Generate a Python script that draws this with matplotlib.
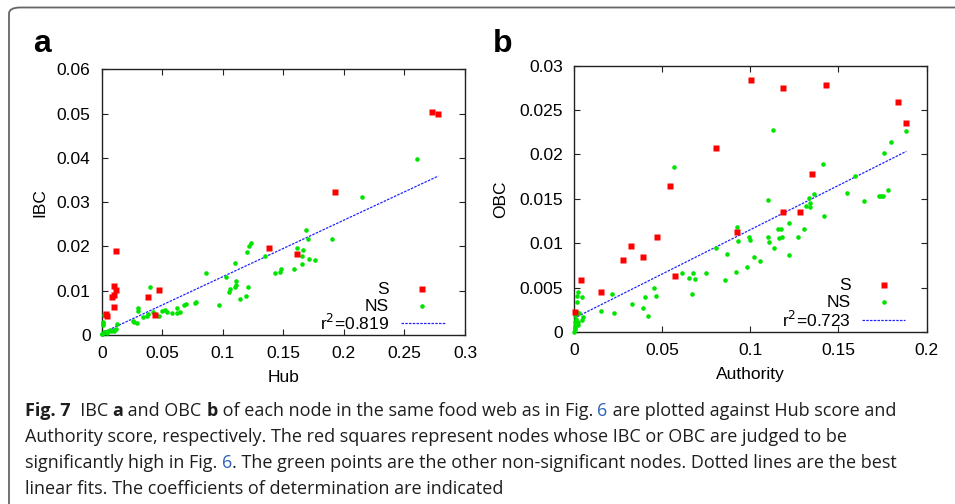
import numpy as np
import matplotlib
matplotlib.use("Agg")
import matplotlib.pyplot as plt
from matplotlib.patches import FancyBboxPatch

# panel a: IBC vs Hub
a_sig_x = [0.273, 0.278, 0.193, 0.138, 0.161, 0.012, 0.0102, 0.0118, 0.0085, 0.0103,
           0.0102, 0.0038, 0.004, 0.0385, 0.0469, 0.044]
a_sig_y = [0.0503, 0.0500, 0.0322, 0.0196, 0.0184, 0.0189, 0.0111, 0.0102, 0.0086, 0.0090,
           0.0063, 0.0048, 0.0044, 0.0086, 0.0101, 0.0046]
a_ns_x = [0.260, 0.215, 0.169, 0.170, 0.190, 0.161, 0.166, 0.165, 0.171, 0.176,
          0.165, 0.159, 0.148, 0.147, 0.143, 0.135, 0.123, 0.122, 0.120, 0.110,
          0.103, 0.111, 0.111, 0.110, 0.106, 0.105, 0.121, 0.119, 0.114, 0.097,
          0.086, 0.078, 0.077, 0.070, 0.068, 0.065, 0.062, 0.062, 0.058, 0.054,
          0.052, 0.050, 0.047, 0.044, 0.042, 0.040, 0.038, 0.037, 0.034, 0.030,
          0.030, 0.029, 0.027, 0.026, 0.013, 0.012, 0.010, 0.007, 0.005, 0.003,
          0.002, 0.0003, 0.0, 0.002, 0.001, 0.001, 0.001, 0.008, 0.004, 0.0105]
a_ns_y = [0.0398, 0.0312, 0.0237, 0.0217, 0.0217, 0.0197, 0.0193, 0.0178, 0.0172, 0.0169,
          0.0160, 0.0148, 0.0150, 0.0142, 0.0139, 0.0178, 0.0207, 0.0202, 0.0188, 0.0163,
          0.0132, 0.0121, 0.0112, 0.0108, 0.0105, 0.0096, 0.0109, 0.0089, 0.0082, 0.0067,
          0.0141, 0.0074, 0.0072, 0.0071, 0.0067, 0.0053, 0.0060, 0.0049, 0.0049, 0.0053,
          0.0056, 0.0054, 0.0043, 0.0048, 0.0053, 0.0109, 0.0048, 0.0044, 0.0040, 0.0060,
          0.0055, 0.0027, 0.0029, 0.0032, 0.0025, 0.0014, 0.0012, 0.0011, 0.0009, 0.0007,
          0.0006, 0.0002, 0.0003, 0.0046, 0.0026, 0.0030, 0.0022, 0.0010, 0.0005, 0.0008]
a_fit = (0.0004, 0.1277)  # intercept, slope
a_r2 = "0.819"

# panel b: OBC vs Authority
b_sig_x = [0.1006, 0.1187, 0.1431, 0.184, 0.1885, 0.0807, 0.0546, 0.1352, 0.1187, 0.1284,
           0.0926, 0.0473, 0.0325, 0.0393, 0.0280, 0.0575, 0.0041, 0.0155, 0.0006]
b_sig_y = [0.0284, 0.0275, 0.0278, 0.0259, 0.0235, 0.0207, 0.0165, 0.0178, 0.0135, 0.0135,
           0.0113, 0.0107, 0.0097, 0.0085, 0.0081, 0.0063, 0.0059, 0.0045, 0.0023]
b_ns_x = [0.1885, 0.1796, 0.1758, 0.1127, 0.0565, 0.1412, 0.1594, 0.1551, 0.1647, 0.1782,
          0.1754, 0.1732, 0.1740, 0.1363, 0.1335, 0.1338, 0.1338, 0.1318, 0.1099, 0.1418,
          0.1220, 0.1303, 0.1159, 0.1176, 0.1165, 0.1178, 0.1270, 0.1099, 0.1104, 0.1136,
          0.1220, 0.0926, 0.0930, 0.0993, 0.0996, 0.1023, 0.1057, 0.0980, 0.0919, 0.0870,
          0.0807, 0.0858, 0.0750, 0.0677, 0.0684, 0.0652, 0.0612, 0.0669, 0.0454, 0.0463,
          0.0403, 0.0393, 0.0420, 0.0331, 0.0213, 0.0225, 0.0151, 0.0045, 0.0023, 0.0019,
          0.0017, 0.0024, 0.0030, 0.0049, 0.0047, 0.0008, 0.0010, 0.0005, 0.0024, 0.0024,
          0.0008, 0.0005, 0.0, 0.0004]
b_ns_y = [0.0226, 0.0214, 0.0202, 0.0228, 0.0186, 0.0189, 0.0176, 0.0157, 0.0148, 0.0160,
          0.0153, 0.0153, 0.0153, 0.0156, 0.0151, 0.0145, 0.0141, 0.0142, 0.0149, 0.0131,
          0.0123, 0.0116, 0.0116, 0.0116, 0.0106, 0.0107, 0.0107, 0.0107, 0.0101, 0.0095,
          0.0087, 0.0118, 0.0103, 0.0107, 0.0104, 0.0085, 0.0080, 0.0073, 0.0068, 0.0088,
          0.0095, 0.0058, 0.0066, 0.0067, 0.0060, 0.0061, 0.0066, 0.0043, 0.0050, 0.0041,
          0.0039, 0.0027, 0.0018, 0.0032, 0.0043, 0.0021, 0.0024, 0.0039, 0.0045, 0.0041,
          0.0034, 0.0021, 0.0021, 0.0017, 0.0013, 0.0019, 0.0015, 0.0011, 0.0011, 0.0008,
          0.0007, 0.0005, 0.0, 0.0003]
b_fit = (0.00154, 0.0998)
b_r2 = "0.723"

a_xticks = [0, 0.05, 0.1, 0.15, 0.2, 0.25, 0.3]
a_yticks = [0, 0.01, 0.02, 0.03, 0.04, 0.05, 0.06]
b_xticks = [0, 0.05, 0.1, 0.15, 0.2]
b_yticks = [0, 0.005, 0.01, 0.015, 0.02, 0.025, 0.03]

caption = [
    [("Fig. 7", "bold", None), ("  IBC ", "normal", None), ("a", "bold", None),
     (" and OBC ", "normal", None), ("b", "bold", None),
     (" of each node in the same food web as in Fig. ", "normal", None), ("6", "normal", "link"),
     (" are plotted against Hub score and", "normal", None)],
    [("Authority score, respectively. The red squares represent nodes whose IBC or OBC are judged to be",
      "normal", None)],
    [("significantly high in Fig. ", "normal", None), ("6", "normal", "link"),
     (". The green points are the other non-significant nodes. Dotted lines are the best",
      "normal", None)],
    [("linear fits. The coefficients of determination are indicated", "normal", None)],
]

RED = "#ff0000"
GREEN = "#00e400"
BLUE = "#2222ff"
FONT = "Liberation Sans"


def draw_panel(ax, sx, sy, nx, ny, fit, r2, xlabel, ylabel, xticks, yticks, leg, lab_xy):
    allx = np.array(list(sx) + list(nx))
    xs = np.array([allx.min(), allx.max()])
    ax.plot(nx, ny, "o", ms=3.3, color=GREEN, mec="none", zorder=3, clip_on=False)
    ax.plot(sx, sy, "s", ms=4.2, color=RED, mec="none", zorder=4, clip_on=False)
    ax.plot(xs, fit[0] + fit[1] * xs, color=BLUE, lw=0.9, ls=(0, (2, 1)), zorder=2)

    ax.set_xlim(xticks[0], xticks[-1])
    ax.set_ylim(yticks[0], yticks[-1])
    ax.set_xticks(xticks)
    ax.set_yticks(yticks)
    ax.set_xticklabels(["%g" % t for t in xticks], fontname=FONT, fontsize=12.5)
    ax.set_yticklabels(["%g" % t for t in yticks], fontname=FONT, fontsize=12.5)
    ax.tick_params(direction="in", length=4, width=0.8, top=True, right=True,
                   pad=8, color="#222222")
    for s in ax.spines.values():
        s.set_linewidth(1.0)
        s.set_color("#222222")
    ax.set_xlabel(xlabel, fontname=FONT, fontsize=12.5)
    ax.set_ylabel(ylabel, fontname=FONT, fontsize=12.5)
    ax.yaxis.set_label_coords(lab_xy[0], 0.5)
    ax.xaxis.set_label_coords(0.5, lab_xy[1])
    ax.yaxis.label.set_va("center")
    ax.xaxis.label.set_va("center")

    # gnuplot style key in the lower right corner
    tx, mx, lx0, lx1, rows = leg
    labels = ["S", "NS", "r$^2$=" + r2]
    for lab, yy in zip(labels, rows):
        ax.text(tx, yy, lab, transform=ax.transAxes, ha="right", va="center",
                fontname=FONT, fontsize=12.5)
    ax.plot([mx], [rows[0]], "s", ms=4.2, color=RED, mec="none", transform=ax.transAxes)
    ax.plot([mx], [rows[1]], "o", ms=3.3, color=GREEN, mec="none", transform=ax.transAxes)
    ax.plot([lx0, lx1], [rows[2], rows[2]], color=BLUE, lw=0.9, ls=(0, (2, 1)),
            transform=ax.transAxes)


def draw_caption(fig, lines, x0, y0, dy, size):
    renderer = fig.canvas.get_renderer()
    W, H = fig.get_size_inches() * fig.dpi
    for i, parts in enumerate(lines):
        x = x0
        y = 1 - (y0 + i * dy) / H
        for txt, weight, kind in parts:
            color = "#2f63b5" if kind == "link" else "#1e1e1e"
            t = fig.text(x / W, y, txt, fontname="Open Sans", fontsize=size,
                         fontweight=weight, color=color, va="baseline", ha="left")
            x += t.get_window_extent(renderer).width


def main():
    fig = plt.figure(figsize=(9.55, 5.04), dpi=100)

    frame = FancyBboxPatch((9 / 955, -0.1), 1.2, 1.1 - 7.5 / 504,
                           boxstyle="round,pad=0,rounding_size=0.012",
                           transform=fig.transFigure, facecolor="none",
                           edgecolor="#666666", linewidth=1.3, zorder=0)
    fig.patches.append(frame)

    ax_a = fig.add_axes([0.1065, 0.3353, 0.3804, 0.5272])
    ax_b = fig.add_axes([0.6010, 0.3413, 0.3693, 0.5284])

    draw_panel(ax_a, a_sig_x, a_sig_y, a_ns_x, a_ns_y, a_fit, a_r2, "Hub", "IBC",
               a_xticks, a_yticks, (0.791, 0.882, 0.823, 0.944, [0.173, 0.109, 0.045]),
               (-0.170, -0.161))
    draw_panel(ax_b, b_sig_x, b_sig_y, b_ns_x, b_ns_y, b_fit, b_r2, "Authority", "OBC",
               b_xticks, b_yticks, (0.785, 0.880, 0.816, 0.940, [0.175, 0.111, 0.045]),
               (-0.207, -0.161))

    fig.text(33 / 955, 1 - 52 / 504, "a", fontname=FONT, fontweight="bold",
             fontsize=23, va="baseline")
    fig.text(493 / 955, 1 - 52 / 504, "b", fontname=FONT, fontweight="bold",
             fontsize=23, va="baseline")

    draw_caption(fig, caption, 25, 416, 26.0, 13.0)

    fig.savefig("out.png", dpi=100)


if __name__ == "__main__":
    main()
